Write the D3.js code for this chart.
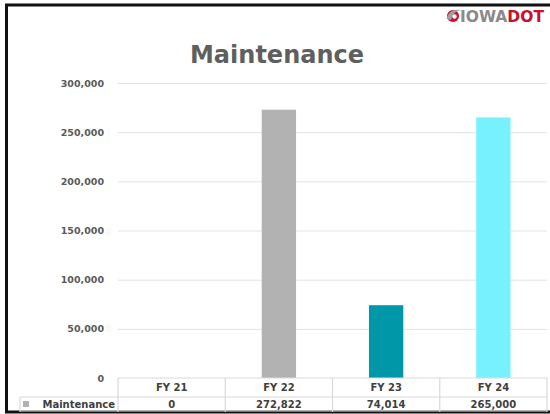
<!DOCTYPE html>
<html>
<head>
<meta charset="utf-8">
<script src="https://cdn.jsdelivr.net/npm/d3@7"></script>
<style>
  body { margin: 0; background: #fff; }
  svg { display: block; }
  text { font-family: "DejaVu Sans", sans-serif; font-weight: bold; }
</style>
</head>
<body>
<svg id="chart"></svg>
<script>
const years = ['FY 21', 'FY 22', 'FY 23', 'FY 24'];
const maintenance = [0, 272822, 74014, 265000];
const barColors = ['#b2b2b2', '#b2b2b2', '#0097a9', '#78f1ff'];
const yTicks = [0, 50000, 100000, 150000, 200000, 250000, 300000];
const seriesName = 'Maintenance';

const width = 550, height = 414;
const plot = {left: 118, right: 547, top: 83, bottom: 378};
const rowMid = 397, rowBottom = 412;

const svg = d3.select('#chart')
    .attr('width', width)
    .attr('height', height);

// outer frame (black edge on top, left and bottom)
svg.append('rect')
    .attr('x', 6.5).attr('y', 5)
    .attr('width', 560).attr('height', 407)
    .attr('fill', 'none')
    .attr('stroke', '#111')
    .attr('stroke-width', 3);

const x = d3.scaleBand()
    .domain(years)
    .range([plot.left, plot.right])
    .padding(0);

const y = d3.scaleLinear()
    .domain([0, 300000])
    .range([plot.bottom, plot.top]);

// gridlines
const yAxis = d3.axisLeft(y)
    .tickValues(yTicks)
    .tickSize(-(plot.right - plot.left))
    .tickPadding(14)
    .tickFormat(d3.format(','));

const yAxisG = svg.append('g')
    .attr('transform', `translate(${plot.left},0)`)
    .call(yAxis)
    .call(g => g.select('.domain').remove());

yAxisG.selectAll('.tick line')
    .attr('stroke', '#e3e3e3')
    .attr('stroke-width', 1)
    .filter(d => d === 0).remove();

yAxisG.selectAll('.tick text')
    .attr('fill', '#595959')
    .style('font-size', '9.5px')
    .style('font-family', '"DejaVu Sans", sans-serif')
    .style('font-weight', 'bold');

// bars
const barW = x.bandwidth() * 0.32;
svg.selectAll('.bar')
    .data(years)
  .join('rect')
    .attr('class', 'bar')
    .attr('x', d => x(d) + (x.bandwidth() - barW) / 2)
    .attr('width', barW)
    .attr('y', (d, i) => y(maintenance[i]))
    .attr('height', (d, i) => y(0) - y(maintenance[i]))
    .attr('fill', (d, i) => barColors[i]);

// data table under the plot
const grid = svg.append('g')
    .attr('stroke', '#d9d9d9')
    .attr('stroke-width', 1.2)
    .attr('fill', 'none');

grid.append('line')
    .attr('x1', plot.left).attr('x2', plot.right)
    .attr('y1', plot.bottom).attr('y2', plot.bottom);
grid.append('line')
    .attr('x1', 20).attr('x2', plot.right)
    .attr('y1', rowMid).attr('y2', rowMid);
grid.append('line')
    .attr('x1', 20).attr('x2', plot.right)
    .attr('y1', rowBottom - 1).attr('y2', rowBottom - 1);
grid.append('line')
    .attr('x1', 20).attr('x2', 20)
    .attr('y1', rowMid).attr('y2', rowBottom);
grid.selectAll('.col')
    .data(years.map(d => x(d)).concat([plot.right]))
  .join('line')
    .attr('x1', d => d).attr('x2', d => d)
    .attr('y1', plot.bottom).attr('y2', rowBottom);

svg.selectAll('.year')
    .data(years)
  .join('text')
    .attr('class', 'year')
    .attr('x', d => x(d) + x.bandwidth() / 2)
    .attr('y', (plot.bottom + rowMid) / 2)
    .attr('dy', '0.36em')
    .attr('text-anchor', 'middle')
    .attr('fill', '#404040')
    .style('font-size', '10px')
    .text(d => d);

svg.selectAll('.val')
    .data(years)
  .join('text')
    .attr('class', 'val')
    .attr('x', d => x(d) + x.bandwidth() / 2)
    .attr('y', (rowMid + rowBottom) / 2)
    .attr('dy', '0.36em')
    .attr('text-anchor', 'middle')
    .attr('fill', '#404040')
    .style('font-size', '10px')
    .text((d, i) => d3.format(',')(maintenance[i]));

// legend key in table
svg.append('rect')
    .attr('x', 23).attr('y', 401)
    .attr('width', 6).attr('height', 6)
    .attr('fill', '#b2b2b2');
svg.append('text')
    .attr('x', 115)
    .attr('y', (rowMid + rowBottom) / 2)
    .attr('dy', '0.36em')
    .attr('text-anchor', 'end')
    .attr('fill', '#404040')
    .style('font-size', '10px')
    .text(seriesName);

// title
svg.append('text')
    .attr('x', 277)
    .attr('y', 63)
    .attr('text-anchor', 'middle')
    .attr('fill', '#5f5f5f')
    .style('font-size', '24px')
    .text('Maintenance');

// logo
const logo = svg.append('g');
logo.append('circle')
    .attr('cx', 453).attr('cy', 16)
    .attr('r', 6)
    .attr('fill', '#c8102e');
logo.append('path')
    .attr('d', 'M446.5,19 Q449,8 461,10 Q453,11 451,20 Z')
    .attr('fill', '#a0a0a0');
logo.append('circle')
    .attr('cx', 454.5).attr('cy', 16.5)
    .attr('r', 2.2)
    .attr('fill', '#fff');
logo.append('text')
    .attr('x', 460).attr('y', 22)
    .style('font-size', '15.5px')
  .call(t => t.append('tspan').attr('fill', '#8a8a8a').text('IOWA'))
  .call(t => t.append('tspan').attr('fill', '#c8102e').text('DOT'));
</script>
</body>
</html>
